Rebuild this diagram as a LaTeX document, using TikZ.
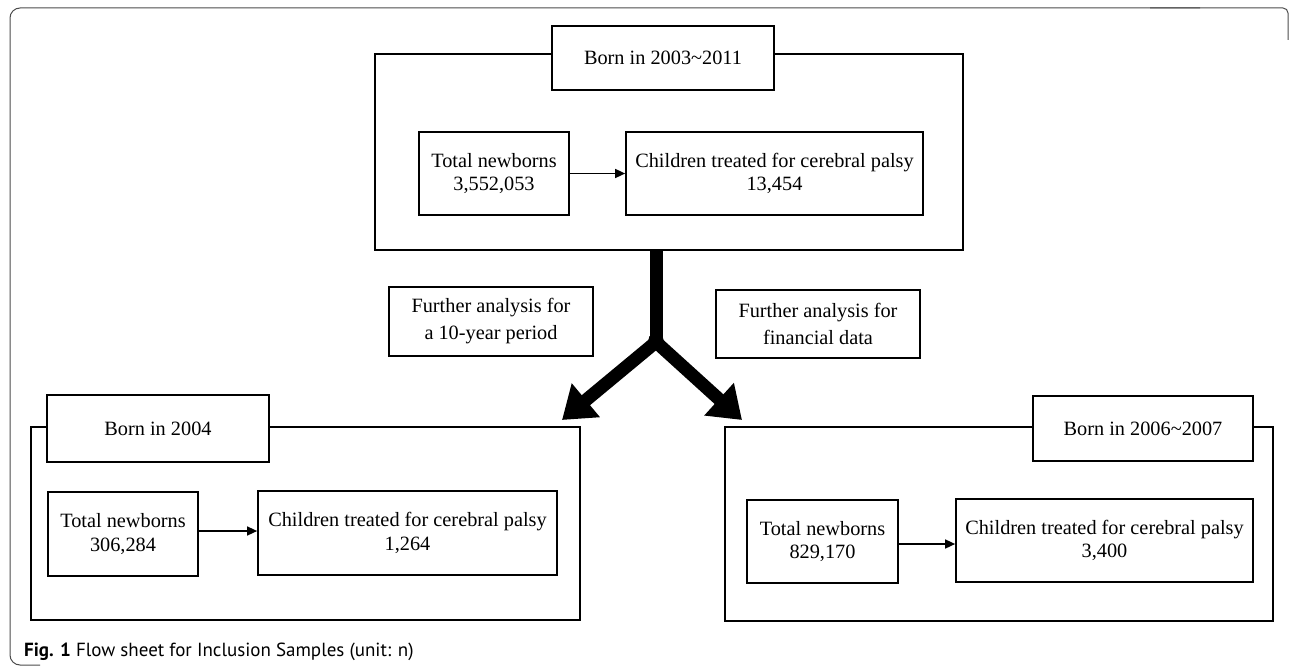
\documentclass[tikz,border=0pt]{standalone}
\usepackage{fontspec}
\setmainfont{Liberation Serif}
\newfontfamily\capfont{PT Sans}
\usetikzlibrary{arrows.meta}
\tikzset{
  bx/.style={draw, line width=1.7pt, fill=white, inner sep=0pt, align=center, font=\fontsize{20.3}{23.5}\selectfont},
  fx/.style={bx, font=\fontsize{20.3}{27}\selectfont},
  grp/.style={draw, line width=1.7pt},
  small/.style={-{Triangle[length=10pt,width=9pt]}, line width=1.5pt},
  big/.style={line width=13pt, -{Triangle[length=31pt,width=42pt]}},
  frame/.style={line width=1pt, black!70, rounded corners=10pt},
}
\begin{document}
\begin{tikzpicture}[x=1pt,y=-1pt]
\useasboundingbox (0,0) rectangle (1290,666);
\draw[frame] (1200,8) -- (10,8) -- (10,665) -- (40,665);
\draw[frame, rounded corners=5pt] (1150,8) -- (1288,8) -- (1288,40);
% top group
\draw[grp] (375,54) rectangle (963,250);
\node[bx, minimum width=222pt, minimum height=64pt] (t0) at (663,58) {Born in 2003\textasciitilde2011};
\node[bx, minimum width=150pt, minimum height=83pt] (a0) at (494,173.5) {Total newborns\\3,552,053};
\node[bx, minimum width=297pt, minimum height=83pt] (b0) at (774.5,173.5) {Children treated for cerebral palsy\\13,454};
\draw[small] (a0.east) -- (b0.west);
% big fork
\coordinate (s0) at (656,250);
\coordinate (fork) at (656,342);
\coordinate (tipL) at (562,420);
\coordinate (tipR) at (742,420);
\draw[line width=13pt] (s0) -- (fork);
\draw[big] (fork) -- (tipL);
\draw[big] (fork) -- (tipR);
\fill (649.5,336) -- (662.5,336) -- (666,349) -- (646,349) -- cycle;
% labels
\node[fx, minimum width=204pt, minimum height=69pt] (f1) at (491,321.5) {Further analysis for\\a 10-year period};
\node[fx, minimum width=204pt, minimum height=68pt] (f2) at (818,324) {Further analysis for\\financial data};
% bottom left
\draw[grp] (31,427) rectangle (580,620);
\node[bx, minimum width=222pt, minimum height=67pt] (t1) at (158,428.5) {Born in 2004};
\node[bx, minimum width=150pt, minimum height=84pt] (a1) at (123,534) {Total newborns\\306,284};
\node[bx, minimum width=299pt, minimum height=84pt] (b1) at (407.5,533) {Children treated for cerebral palsy\\1,264};
\draw[small] (a1.east |- 0,531) -- (b1.west |- 0,531);
% bottom right
\draw[grp] (725,427) rectangle (1273,621);
\node[bx, minimum width=220pt, minimum height=65pt] (t2) at (1143,428.5) {Born in 2006\textasciitilde2007};
\node[bx, minimum width=151pt, minimum height=83pt] (a2) at (822.5,541.5) {Total newborns\\829,170};
\node[bx, minimum width=297pt, minimum height=83pt] (b2) at (1104.5,540.5) {Children treated for cerebral palsy\\3,400};
\draw[small] (a2.east |- 0,544) -- (b2.west |- 0,544);
% caption
\node[anchor=base west, inner sep=0pt, font=\capfont\fontsize{19}{21}\selectfont] (cap) at (24,656) {\textbf{Fig. 1} Flow sheet for Inclusion Samples (unit: n)};
\end{tikzpicture}
\end{document}
